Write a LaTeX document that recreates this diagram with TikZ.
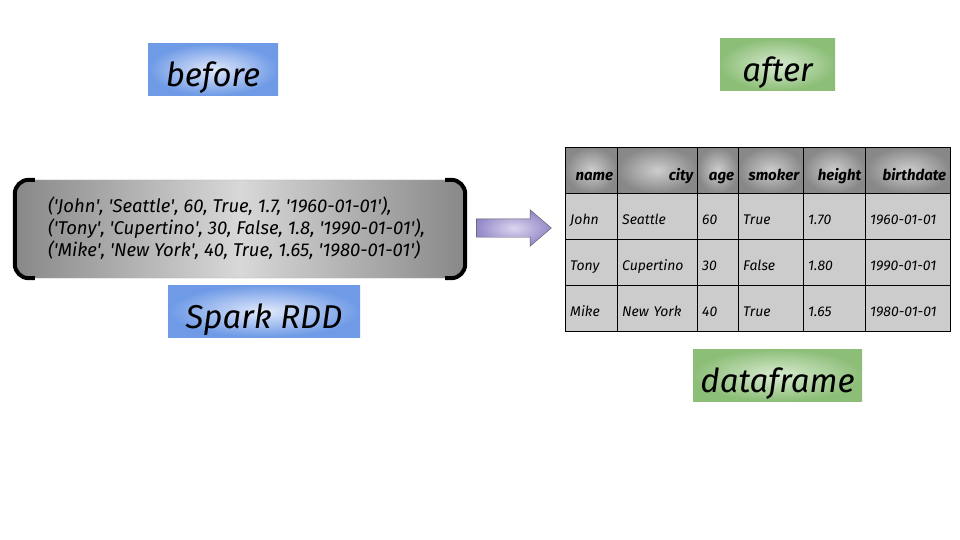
\documentclass[tikz,border=0pt]{standalone}
\usepackage{fontspec}
\setmainfont{Fira Sans}
\usetikzlibrary{shapes.arrows,positioning}

\definecolor{azulborda}{HTML}{6E9AE6}
\definecolor{azulcentro}{HTML}{E2E9FB}
\definecolor{verdeborda}{HTML}{8DBE78}
\definecolor{verdecentro}{HTML}{D8EBD1}
\definecolor{cinzaborda}{HTML}{888888}
\definecolor{cinzacentro}{HTML}{D8D8D8}
\definecolor{roxoborda}{HTML}{9488C8}
\definecolor{roxocentro}{HTML}{DCD6EF}
\definecolor{celulafundo}{HTML}{CCCCCC}

\newcommand{\aspa}{\textquotesingle}

\begin{document}
\begin{tikzpicture}[x=1pt,y=-1pt,
    rotulo/.style={inner sep=0pt, shade, shading=radial, text height=35pt, text depth=0pt,
      font=\itshape\fontsize{33}{33}\selectfont, minimum height=52},
    azul/.style={rotulo, inner color=azulcentro, outer color=azulborda},
    verde/.style={rotulo, inner color=verdecentro, outer color=verdeborda},
    cabecalho/.style={draw=black, shade, shading=radial, inner color=cinzacentro!95!black,
      outer color=cinzaborda, anchor=north west, minimum height=46, inner xsep=4,
      text height=20pt, text depth=0pt,
      align=right, font=\bfseries\itshape\fontsize{15}{15}\selectfont},
    celula/.style={draw=black, fill=celulafundo, anchor=north west, minimum height=46,
      inner xsep=5, text height=17pt, text depth=0pt,
      align=left, font=\itshape\fontsize{14}{14}\selectfont}]

    \useasboundingbox[fill=white] (0,0) rectangle (960,540);

    % rotulos
    \node[azul, minimum width=130] (antes) at (213,69.5) {before};
    \node[verde, minimum width=115] (depois) at (777.5,64.5) {after};
    \node[azul, minimum width=192] (spark) at (264,311) {Spark RDD};
    \node[verde, minimum width=169] (df) at (777.5,375) {dataframe};

    % RDD
    \node[draw=cinzacentro!80!black, thin, rounded corners=14, shade, shading=axis,
      left color=cinzaborda, right color=cinzaborda, middle color=cinzacentro,
      minimum width=450, minimum height=98] (rdd) at (240,229) {};
    \node[anchor=west, align=left, inner sep=0pt, font=\itshape\fontsize{18.5}{22}\selectfont]
      (rddtexto) at ([xshift=33,yshift=1]rdd.west)
      {(\aspa John\aspa, \aspa Seattle\aspa, 60, True, 1.7, \aspa 1960-01-01\aspa),\\
       (\aspa Tony\aspa, \aspa Cupertino\aspa, 30, False, 1.8, \aspa 1990-01-01\aspa),\\
       (\aspa Mike\aspa, \aspa New York\aspa, 40, True, 1.65, \aspa 1980-01-01\aspa)};
    \draw[line width=4, rounded corners=14] ([xshift=20]rdd.north west) -- (rdd.north west)
      -- (rdd.south west) -- ([xshift=20]rdd.south west);
    \draw[line width=4, rounded corners=14] ([xshift=-20]rdd.north east) -- (rdd.north east)
      -- (rdd.south east) -- ([xshift=-20]rdd.south east);

    % seta
    \node[single arrow, draw=black!65, shade, shading=radial, inner color=roxocentro,
      outer color=roxoborda, minimum height=75, inner sep=0pt,
      single arrow head extend=9, single arrow tip angle=81]
      (seta) at (508.5,228) {\rule{0pt}{18pt}};

    % tabela
    \foreach \xa/\xb/\nome/\va/\vb/\vc [count=\c] in {
        565/617/name/John/Tony/Mike,
        617/697/city/Seattle/Cupertino/New York,
        697/738/age/60/30/40,
        738/803/smoker/True/False/True,
        803/865/height/1.70/1.80/1.65,
        865/950/birthdate/1960-01-01/1990-01-01/1980-01-01} {
      \node[cabecalho, text width={\xb-\xa-8}] (h\c) at (\xa,147) {\nome};
      \node[celula, text width={\xb-\xa-10}] (a\c) at (\xa,193) {\va};
      \node[celula, text width={\xb-\xa-10}] (b\c) at (\xa,239) {\vb};
      \node[celula, text width={\xb-\xa-10}] (c\c) at (\xa,285) {\vc};
    }

\end{tikzpicture}
\end{document}
